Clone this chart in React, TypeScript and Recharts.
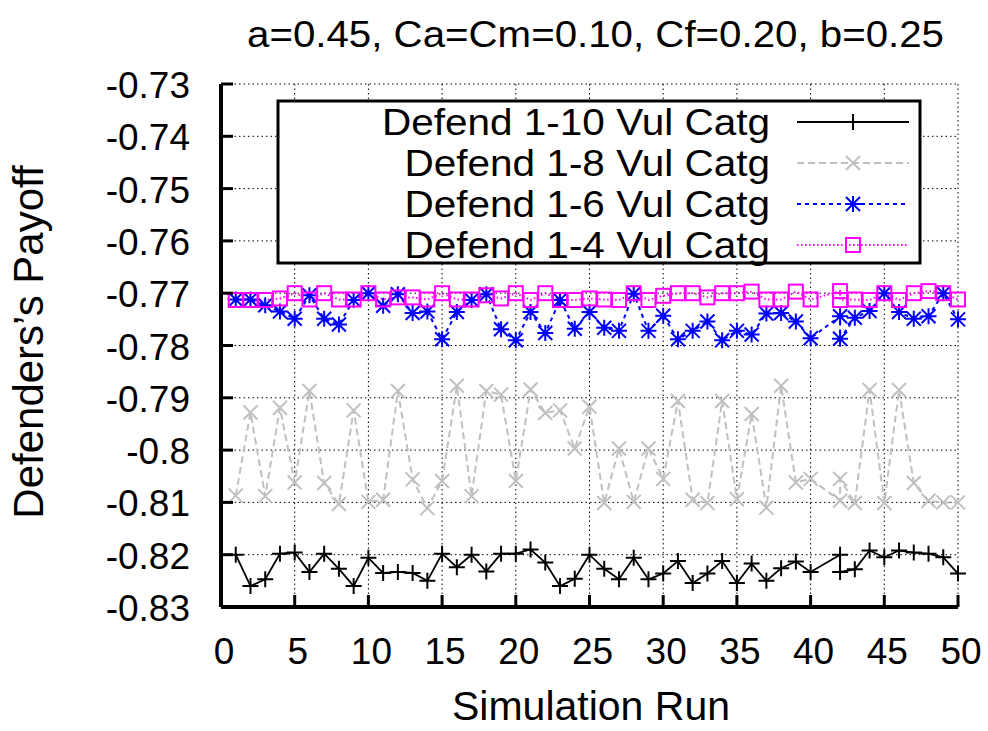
import React from 'react';
import { LineChart, Line, XAxis, YAxis, CartesianGrid, Customized } from 'recharts';

// simulation run index (run 41 is logged as 42 in the source data)
const runs = [
  1, 2, 3, 4, 5, 6, 7, 8, 9, 10, 11, 12, 13, 14, 15, 16, 17, 18, 19, 20,
  21, 22, 23, 24, 25, 26, 27, 28, 29, 30, 31, 32, 33, 34, 35, 36, 37, 38, 39, 40,
  42, 42, 43, 44, 45, 46, 47, 48, 49, 50
];

const defend10 = [
  -0.8200, -0.8260, -0.8247, -0.8198, -0.8196, -0.8233, -0.8198, -0.8227, -0.8260, -0.8206,
  -0.8235, -0.8233, -0.8235, -0.8250, -0.8198, -0.8224, -0.8200, -0.8232, -0.8198, -0.8198,
  -0.8190, -0.8215, -0.8260, -0.8246, -0.8200, -0.8227, -0.8247, -0.8206, -0.8247, -0.8236,
  -0.8212, -0.8254, -0.8236, -0.8212, -0.8254, -0.8217, -0.8250, -0.8226, -0.8213, -0.8233,
  -0.8200, -0.8233, -0.8228, -0.8192, -0.8205, -0.8192, -0.8196, -0.8198, -0.8205, -0.8236
];

const defend8 = [
  -0.8087, -0.7928, -0.8088, -0.7919, -0.8062, -0.7887, -0.8063, -0.8103, -0.7924, -0.8099,
  -0.8095, -0.7887, -0.8056, -0.8111, -0.8059, -0.7877, -0.8088, -0.7887, -0.7894, -0.8059,
  -0.7884, -0.7929, -0.7924, -0.7997, -0.7917, -0.8101, -0.7997, -0.8099, -0.7997, -0.8055,
  -0.7906, -0.8095, -0.8101, -0.7906, -0.8094, -0.7931, -0.8110, -0.7877, -0.8062, -0.8055,
  -0.8097, -0.8055, -0.8101, -0.7885, -0.8101, -0.7885, -0.8063, -0.8097, -0.8100, -0.8100
];

const defend6 = [
  -0.7712, -0.7712, -0.7723, -0.7735, -0.7749, -0.7704, -0.7749, -0.7760, -0.7713, -0.7700,
  -0.7724, -0.7702, -0.7738, -0.7735, -0.7788, -0.7736, -0.7713, -0.7702, -0.7769, -0.7790,
  -0.7736, -0.7776, -0.7713, -0.7768, -0.7736, -0.7766, -0.7772, -0.7701, -0.7772, -0.7743,
  -0.7788, -0.7772, -0.7754, -0.7790, -0.7772, -0.7779, -0.7739, -0.7738, -0.7754, -0.7786,
  -0.7744, -0.7787, -0.7747, -0.7734, -0.7700, -0.7736, -0.7749, -0.7744, -0.7700, -0.7750
];

const defend4 = [
  -0.7713, -0.7713, -0.7713, -0.7710, -0.7700, -0.7712, -0.7700, -0.7712, -0.7712, -0.7700,
  -0.7712, -0.7708, -0.7708, -0.7712, -0.7700, -0.7712, -0.7712, -0.7704, -0.7710, -0.7700,
  -0.7713, -0.7700, -0.7713, -0.7713, -0.7710, -0.7712, -0.7713, -0.7700, -0.7713, -0.7705,
  -0.7700, -0.7700, -0.7708, -0.7700, -0.7700, -0.7697, -0.7712, -0.7712, -0.7697, -0.7712,
  -0.7696, -0.7713, -0.7712, -0.7713, -0.7700, -0.7713, -0.7700, -0.7696, -0.7700, -0.7712
];

const xTicks = [0, 5, 10, 15, 20, 25, 30, 35, 40, 45, 50];
const yTicks = [-0.83, -0.82, -0.81, -0.8, -0.79, -0.78, -0.77, -0.76, -0.75, -0.74, -0.73];

const data = runs.map((run, i) => ({
  run,
  d10: defend10[i],
  d8: defend8[i],
  d6: defend6[i],
  d4: defend4[i]
}));

const FONT = '"Liberation Sans", Arial, Helvetica, sans-serif';
const TICK_LEN = 12;

type MarkerKind = 'plus' | 'cross' | 'star' | 'square';

const series: Array<{ key: string; name: string; color: string; dash?: string; width: number; marker: MarkerKind }> = [
  { key: 'd10', name: 'Defend 1-10 Vul Catg', color: '#000000', width: 1.8, marker: 'plus' },
  { key: 'd8', name: 'Defend 1-8 Vul Catg', color: '#c0c0c0', dash: '7 4', width: 2, marker: 'cross' },
  { key: 'd6', name: 'Defend 1-6 Vul Catg', color: '#0000ff', dash: '4 4', width: 2, marker: 'star' },
  { key: 'd4', name: 'Defend 1-4 Vul Catg', color: '#ff00ff', dash: '1.5 2.5', width: 2, marker: 'square' }
];

const Marker = ({ kind, cx, cy, color }: { kind: MarkerKind; cx: number; cy: number; color: string }) => {
  const r = 8;
  const d = 7;
  if (kind === 'square') {
    return <rect x={cx - 7} y={cy - 7} width={14} height={14} fill="none" stroke={color} strokeWidth={2} />;
  }
  let path = '';
  if (kind === 'plus' || kind === 'star') path += `M${cx - r},${cy}H${cx + r}M${cx},${cy - r}V${cy + r}`;
  if (kind === 'cross' || kind === 'star') path += `M${cx - d},${cy - d}L${cx + d},${cy + d}M${cx - d},${cy + d}L${cx + d},${cy - d}`;
  return <path d={path} stroke={color} strokeWidth={2} fill="none" />;
};

const BottomTick = (props: any) => {
  const { x, y, payload } = props;
  return (
    <g>
      <line x1={x} y1={y} x2={x} y2={y - TICK_LEN} stroke="#000" strokeWidth={3} />
      <text x={x + 3} y={y + 57} textAnchor="middle" fontSize={37} fontFamily={FONT} fill="#000">
        {payload.value}
      </text>
    </g>
  );
};

const TopTick = (props: any) => {
  const { x, y } = props;
  return <line x1={x} y1={y} x2={x} y2={y + TICK_LEN} stroke="#000" strokeWidth={3} />;
};

const LeftTick = (props: any) => {
  const { x, y, payload } = props;
  const label = Number(Number(payload.value).toFixed(2)).toString();
  return (
    <g>
      <line x1={x} y1={y} x2={x + TICK_LEN} y2={y} stroke="#000" strokeWidth={3} />
      <text x={x - 31} y={y + 14} textAnchor="end" fontSize={37} fontFamily={FONT} fill="#000">
        {label}
      </text>
    </g>
  );
};

const RightTick = (props: any) => {
  const { x, y } = props;
  return <line x1={x} y1={y} x2={x - TICK_LEN} y2={y} stroke="#000" strokeWidth={3} />;
};

const Labels = () => (
  <g fontFamily={FONT} fill="#000">
    <text x={247} y={47} fontSize={37} textLength={697} lengthAdjust="spacingAndGlyphs">
      a=0.45, Ca=Cm=0.10, Cf=0.20, b=0.25
    </text>
    <text x={591} y={720} fontSize={41} textAnchor="middle">
      Simulation Run
    </text>
    <text transform="translate(43,342) rotate(-90)" fontSize={42} textAnchor="middle">
      Defenders’s Payoff
    </text>
  </g>
);

const KeyBox = () => {
  const rows = [122, 163, 204, 245];
  return (
    <g fontFamily={FONT}>
      <rect x={278} y={101} width={642} height={162} fill="#fff" stroke="#000" strokeWidth={3} />
      {series.map((s, i) => (
        <g key={s.key}>
          <text
            transform={`translate(770,${rows[i] + 13}) scale(1.11,1)`}
            textAnchor="end"
            fontSize={36.5}
            fill="#000"
          >
            {s.name}
          </text>
          <line
            x1={797}
            y1={rows[i]}
            x2={909}
            y2={rows[i]}
            stroke={s.color}
            strokeWidth={s.width}
            strokeDasharray={s.dash}
          />
          <Marker kind={s.marker} cx={853} cy={rows[i]} color={s.color} />
        </g>
      ))}
    </g>
  );
};

export default function App() {
  return (
    <div style={{ position: 'absolute', left: 0, top: 0, background: '#fff' }}>
      <LineChart width={988} height={731} data={data} margin={{ top: 84, right: 30, bottom: 64, left: 101 }}>
        <CartesianGrid stroke="#000" strokeWidth={1} strokeDasharray="1.5 3" />
        <XAxis
          dataKey="run"
          type="number"
          domain={[0, 50]}
          ticks={xTicks}
          height={60}
          tickSize={0}
          tickMargin={0}
          tickLine={false}
          axisLine={{ stroke: '#000', strokeWidth: 4 }}
          tick={<BottomTick />}
          interval={0}
        />
        <XAxis
          xAxisId="top"
          orientation="top"
          dataKey="run"
          type="number"
          domain={[0, 50]}
          ticks={xTicks}
          height={0}
          tickSize={0}
          tickMargin={0}
          tickLine={false}
          axisLine={{ stroke: '#000', strokeWidth: 4 }}
          tick={<TopTick />}
          interval={0}
        />
        <YAxis
          type="number"
          domain={[-0.83, -0.73]}
          ticks={yTicks}
          allowDataOverflow
          width={120}
          tickSize={0}
          tickMargin={0}
          tickLine={false}
          axisLine={{ stroke: '#000', strokeWidth: 4 }}
          tick={<LeftTick />}
          interval={0}
        />
        <YAxis
          yAxisId="right"
          orientation="right"
          type="number"
          domain={[-0.83, -0.73]}
          ticks={yTicks}
          allowDataOverflow
          width={0}
          tickSize={0}
          tickMargin={0}
          tickLine={false}
          axisLine={{ stroke: '#000', strokeWidth: 4 }}
          tick={<RightTick />}
          interval={0}
        />
        {series.map((s) => (
          <Line
            key={s.key}
            dataKey={s.key}
            name={s.name}
            type="linear"
            stroke={s.color}
            strokeWidth={s.width}
            strokeDasharray={s.dash}
            isAnimationActive={false}
            dot={(p: any) => (
              <Marker key={`${s.key}-${p.index}`} kind={s.marker} cx={p.cx} cy={p.cy} color={s.color} />
            )}
            activeDot={false}
          />
        ))}
        <Customized component={<KeyBox />} />
        <Customized component={<Labels />} />
      </LineChart>
    </div>
  );
}
